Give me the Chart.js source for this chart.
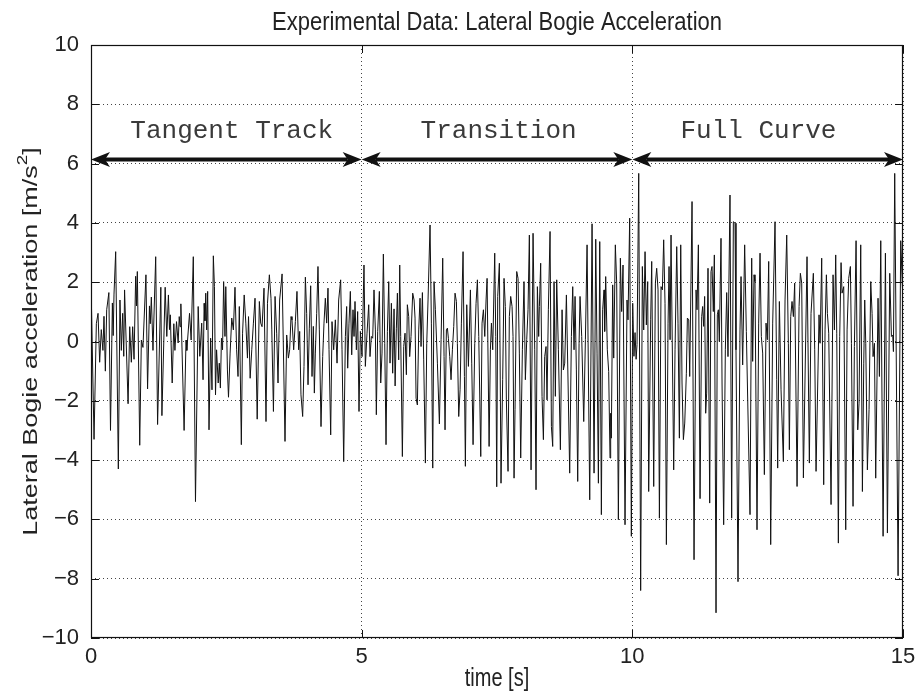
<!DOCTYPE html>
<html>
<head>
<meta charset="utf-8">
<script src="https://cdn.jsdelivr.net/npm/chart.js@4.4.1/dist/chart.umd.min.js"></script>
<style>
  html, body { margin: 0; padding: 0; background: #fff; }
  #wrap { width: 915px; height: 693px; }
</style>
</head>
<body>
<div id="wrap"><canvas id="c" width="915" height="693"></canvas></div>
<script>
// Lateral bogie acceleration record [m/s^2] against time [s], by track section.
const tangentTime = [0.00,0.056,0.099,0.13,0.16,0.19,0.22,0.24,0.265,0.29,0.33,0.36,0.395,0.41,0.425,0.456,0.505,0.535,0.56,0.585,0.605,0.62,0.685,0.715,0.745,0.77,0.795,0.825,0.84,0.856,0.90,0.93,0.96,1.015,1.045,1.08,1.095,1.115,1.145,1.195,1.23,1.29,1.31,1.37,1.40,1.43,1.45,1.465,1.50,1.53,1.55,1.58,1.61,1.63,1.645,1.66,1.72,1.755,1.77,1.82,1.85,
  1.89,1.93,1.98,2.01,2.045,2.07,2.09,2.105,2.12,2.137,2.155,2.18,2.21,2.235,2.26,2.28,2.30,2.32,2.35,2.37,2.39,2.41,2.43,2.45,2.475,2.49,2.52,2.54,2.57,2.60,2.63,2.66,2.69,2.716,2.74,2.777,2.80,2.83,2.86,2.89,2.91,2.94,2.97,3.00,3.03,3.07,3.11,3.135,3.16,3.196,3.233,3.26,3.295,3.325,3.34,3.37,3.40,3.43,3.455,3.485,3.53,3.584,3.615,3.646,3.67,3.695,
  3.713,3.744,3.775,3.805,3.836,3.855,3.879,3.91,3.935,3.96,3.984,4.009,4.033,4.058,4.083,4.107,4.126,4.144,4.169,4.193,4.218,4.249,4.28,4.304,4.329,4.354,4.378,4.397,4.428,4.452,4.483,4.514,4.545,4.575,4.612,4.637,4.668,4.699,4.723,4.742,4.766,4.791,4.816,4.84,4.859,4.877,4.902,4.926,4.951,4.976];
const tangentAcc = [2.0,-3.3,0.6,0.95,-0.7,0.4,-0.3,0.85,-1.0,1.07,1.65,-3.0,1.3,0.2,1.6,3.03,-4.3,1.4,-0.3,0.95,-0.5,1.74,-2.1,0.5,-0.7,0.5,-0.6,2.2,1.2,2.36,-3.5,0.05,-0.2,2.25,-1.6,1.2,0.6,1.5,-0.3,2.86,-2.8,1.83,-2.5,1.83,0.17,1.57,0.4,0.9,-1.4,0.6,-0.3,0.67,-0.05,0.84,0.5,1.27,-3.0,0.05,-0.3,0.95,0.05,
  2.86,-5.4,1.18,-0.5,0.62,-1.29,1.29,0.7,1.63,0.39,1.69,-2.98,0.11,-1.63,2.89,1.85,-1.8,-0.28,-1.4,-0.73,-1.57,0.11,-0.28,2.02,0.17,1.85,-0.96,-1.88,-0.39,0.79,0.39,1.83,-0.28,-1.18,1.18,-3.48,0.28,1.57,0.62,-0.56,0.84,-1.24,-0.28,0.62,1.46,-2.62,1.35,0.62,0.5,1.8,-2.7,1.29,2.25,1.46,0.39,-2.36,1.52,0.28,-1.4,1.4,2.28,-3.37,0.22,-0.56,-0.28,0.84,
  0.73,-0.28,0.67,1.69,-0.28,0.34,-1.8,-2.53,-0.84,2.17,0.95,-1.46,0.45,1.88,-1.18,0.51,-1.74,-0.39,0.95,2.53,0.39,-2.87,-0.51,0.62,1.46,0.62,1.8,-0.28,-3.15,0.67,-0.28,0.73,-0.73,1.4,2.08,-0.28,-4.05,0.17,1.18,-0.9,0.62,1.69,-0.45,1.07,0.17,1.35,-0.28,1.01,-2.36,0.34];

const transitionTime = [5.007,5.043,5.068,5.099,5.13,5.154,5.179,5.204,5.228,5.253,5.271,5.296,5.327,5.352,5.376,5.401,5.426,5.45,5.475,5.5,5.524,5.549,5.573,5.598,5.618,
  5.641,5.66,5.684,5.703,5.721,5.752,5.777,5.801,5.826,5.844,5.869,5.887,5.912,5.943,5.968,5.986,6.005,6.029,6.054,6.078,6.097,6.122,6.146,6.177,6.202,6.226,6.263,6.288,6.313,6.337,6.362,6.399,6.436,6.467,6.497,6.522,6.54,6.565,6.584,6.602,6.627,6.651,6.676,6.701,6.725,6.75,6.768,6.793,6.818,6.842,6.873,6.898,6.916,6.941,6.972,7.009,7.033,7.058,7.089,7.113,7.138,7.163,7.2,7.224,7.249,7.274,7.298,7.317,7.354,7.378,7.397,7.421,7.458,7.477,7.495,
  7.513,7.544,7.574,7.605,7.63,7.654,7.673,7.704,7.728,7.753,7.778,7.796,7.815,7.833,7.864,7.889,7.913,7.938,7.969,7.999,8.024,8.049,8.073,8.098,8.129,8.166,8.197,8.221,8.246,8.27,8.283,8.307,8.332,8.357,8.381,8.406,8.424,8.449,8.48,8.505,8.529,8.554,8.578,8.603,8.634,8.671,8.702,8.726,8.751,8.782,8.813,8.843,8.874,8.899,8.923,8.942,8.966,8.991,9.016,9.034,9.065,9.102,9.133,9.164,9.213,9.256,9.293,9.324,9.348,9.373,9.398,
  9.428,9.452,9.477,9.489,9.508,9.538,9.563,9.588,9.6,9.612,9.637,9.656,9.686,9.711,9.742,9.779,9.803,9.828,9.865,9.902,9.92,9.951,9.982];
const transitionAcc = [-0.51,2.58,-0.84,0.28,1.24,-0.51,0.17,0.11,1.74,0.39,-2.47,0.34,1.69,-1.4,-0.39,2.95,-0.06,-3.48,0.34,2.02,-0.73,1.29,-1.07,1.1,-1.5,
  0.45,1.63,-0.62,2.58,0.17,-3.88,-0.17,0.28,-1.12,1.24,0.84,-0.51,0.17,1.63,1.4,0.79,-1.91,-2.14,0.39,1.46,-0.17,1.65,-0.62,-4.1,-0.06,1.4,3.93,0.62,-4.27,2.02,1.07,-0.73,-2.78,0.06,2.81,-0.51,-2.98,0.39,0.45,0.11,-0.51,-1.29,-0.28,0.51,1.63,1.35,-0.06,-2.53,-1.63,0.62,3.03,-1.18,-4.21,1.24,-0.84,1.74,-0.73,-3.48,-0.06,1.29,2.08,0.17,-3.88,0.62,1.07,0.17,1.4,2.13,-3.54,-0.28,0.62,-0.28,2.98,0.17,-4.9,
  1.52,2.64,-4.78,-1.29,2.13,1.18,-1.97,-4.38,0.84,1.52,1.18,0.17,-4.61,-2.3,2.36,2.13,-0.39,-3.93,-0.28,2.02,-1.29,0.06,1.07,3.59,-4.33,3.65,-0.28,-5.0,1.85,0.17,1.18,2.64,-1.85,-3.31,-0.51,-0.17,-1.97,1.07,3.71,-2.87,-3.54,2.02,-1.85,2.08,-0.28,-3.65,1.07,-0.96,-0.73,1.57,-1.4,-4.44,0.17,1.85,-0.28,1.52,-0.96,-4.72,-0.06,1.52,0.17,-2.7,0.06,3.26,-5.34,3.97,-4.44,3.45,-0.39,-4.78,3.37,
  -5.84,1.07,1.74,0.34,2.19,-0.28,-1.01,-3.93,-2.42,-3.26,1.91,-0.56,3.26,1.97,-6.01,2.81,1.01,2.58,-6.18,1.4,0.73,4.16,-6.57];

const curveTime = [10.007,10.03,10.05,10.07,10.087,10.118,10.154,10.185,10.21,10.235,10.259,10.284,10.302,10.339,10.358,10.395,10.426,10.45,10.475,10.5,10.53,10.555,10.579,10.604,10.629,10.66,10.678,10.697,10.715,10.764,10.789,10.82,10.844,10.869,10.894,10.918,10.943,10.968,10.998,11.017,11.042,11.06,11.103,11.14,11.177,11.195,11.22,11.251,
  11.281,11.299,11.318,11.336,11.355,11.373,11.398,11.429,11.453,11.472,11.496,11.515,11.546,11.57,11.589,11.607,11.638,11.657,11.687,11.718,11.743,11.767,11.804,11.835,11.866,11.897,11.915,11.952,11.989,12.008,12.038,12.075,12.106,12.174,12.205,12.223,12.248,12.266,12.303,12.334,12.359,12.383,12.408,12.439,12.47,12.494,12.519,12.556,12.593,12.636,12.667,12.685,12.716,12.747,12.79,12.821,12.852,12.882,12.901,12.926,12.95,12.975,12.999,13.043,13.08,13.104,13.129,13.16,
  13.227,13.27,13.301,13.344,13.369,13.394,13.449,13.468,13.498,13.535,13.56,13.585,13.603,13.628,13.671,13.708,13.733,13.757,13.776,13.806,13.831,13.856,13.874,13.905,13.942,13.967,13.997,14.028,14.047,14.077,14.102,14.133,14.164,14.188,14.219,14.25,14.275,14.293,14.312,14.342,14.373,14.404,14.429,14.447,14.472,14.496,14.539,14.564,14.589,14.632,14.675,14.712,14.755,14.786,14.81,14.823,14.847,14.909,14.958,15.0];
const curveAcc = [1.29,-0.5,0.3,-0.6,-0.1,5.67,-8.4,2.53,0.39,3.03,0.56,2.02,-5.06,0.73,2.7,-4.89,1.97,2.47,1.74,-5.96,1.85,1.74,3.43,1.29,-6.85,0.62,2.53,0.06,3.59,-4.33,-0.28,3.2,0.62,-3.26,3.26,-1.4,-3.31,-2.75,-1.07,0.79,0.73,-1.18,4.72,-7.36,1.74,1.07,3.26,-5.3,
  0.84,1.18,0.51,1.52,-2.42,-1.74,2.47,-5.45,2.36,2.53,1.01,2.92,-9.15,0.9,1.07,0.0,3.48,-1.4,-6.18,-0.28,1.65,-0.51,4.94,-5.96,4.04,3.99,-0.28,-8.1,0.39,2.19,-0.79,3.26,0.34,-5.84,2.81,-0.67,2.25,2.02,-6.35,0.62,2.98,0.17,-0.39,-4.49,0.62,0.06,2.7,-6.85,0.62,4.04,-1.29,-4.27,1.35,-1.63,-4.05,1.4,3.59,-0.06,-3.65,0.84,1.35,0.84,1.97,-4.89,1.18,2.3,1.97,-4.6,
  2.86,-4.1,0.95,2.3,-0.28,-4.38,0.9,-0.06,2.81,-4.83,0.39,2.25,0.95,0.28,-5.5,2.25,0.39,2.92,0.28,-6.8,0.17,2.66,1.63,1.85,-6.35,0.39,2.13,2.53,-0.06,-5.56,-0.17,3.4,-2.98,-2.08,3.26,-5.06,-0.73,1.4,-0.06,-4.33,-2.3,2.02,0.95,-0.51,-0.06,-4.61,1.46,-1.18,3.4,-6.57,2.98,-6.46,2.3,0.17,0.22,-0.34,5.67,-7.9,3.4,1.3];

// Track sections, annotated across the top of the plot
const sectionNames = ['Tangent Track', 'Transition', 'Full Curve'];
const sectionStart = [0, 5, 10];
const sectionEnd = [5, 10, 15];
const sectionLabelAt = [2.6, 7.53, 12.33];
const sectionArrowLevel = 6.15;
const sectionLabelLevel = 7.1;

// Axis ticks
const xTickValues = [0, 5, 10, 15];
const yTickValues = [-10, -8, -6, -4, -2, 0, 2, 4, 6, 8, 10];

const allTime = tangentTime.concat(transitionTime, curveTime);
const allAcc = tangentAcc.concat(transitionAcc, curveAcc);
const points = allTime.map((t, i) => ({ x: t, y: allAcc[i] }));

const SANS = "'Liberation Sans', Arial, Helvetica, sans-serif";
const MONO = "'Liberation Mono', 'Courier New', monospace";
const fmtNum = v => (v < 0 ? '\u2212' + Math.abs(v) : String(v));

// Frame, inward ticks, axis titles and section annotations
const decorations = {
  id: 'decorations',
  afterDraw(chart) {
    const { ctx, chartArea: a, scales: { x, y } } = chart;
    ctx.save();

    // box
    ctx.strokeStyle = '#111';
    ctx.lineWidth = 1.2;
    ctx.strokeRect(Math.round(a.left) + 0.5, Math.round(a.top) + 0.5,
                   Math.round(a.right - a.left) - 1, Math.round(a.bottom - a.top) - 1);

    // inward tick marks on all four sides
    const tl = 8;
    ctx.lineWidth = 1;
    ctx.beginPath();
    xTickValues.forEach(v => {
      const px = Math.round(x.getPixelForValue(v)) + 0.5;
      ctx.moveTo(px, a.bottom); ctx.lineTo(px, a.bottom - tl);
      ctx.moveTo(px, a.top); ctx.lineTo(px, a.top + tl);
    });
    yTickValues.forEach(v => {
      const py = Math.round(y.getPixelForValue(v)) + 0.5;
      ctx.moveTo(a.left, py); ctx.lineTo(a.left + tl, py);
      ctx.moveTo(a.right, py); ctx.lineTo(a.right - tl, py);
    });
    ctx.stroke();

    // title
    const cx = (a.left + a.right) / 2;
    ctx.fillStyle = '#222';
    ctx.textAlign = 'center';
    ctx.textBaseline = 'middle';
    ctx.save();
    ctx.translate(cx, 23);
    ctx.scale(1, 1.15);
    ctx.font = '22px ' + SANS;
    ctx.fillText('Experimental Data: Lateral Bogie Acceleration', 0, 0);
    ctx.restore();

    // x axis title
    ctx.save();
    ctx.translate(cx, 679);
    ctx.scale(1, 1.25);
    ctx.font = '20px ' + SANS;
    ctx.fillText('time [s]', 0, 0);
    ctx.restore();

    // y axis title with superscript
    ctx.save();
    ctx.translate(31, (a.top + a.bottom) / 2);
    ctx.rotate(-Math.PI / 2);
    ctx.scale(1.35, 1);
    const base = 'Lateral Bogie acceleration [m/s';
    ctx.font = '20px ' + SANS;
    const wBase = ctx.measureText(base).width;
    const wClose = ctx.measureText(']').width;
    ctx.font = '14px ' + SANS;
    const wSup = ctx.measureText('2').width;
    const total = wBase + wSup + wClose;
    let sx = -total / 2;
    ctx.textAlign = 'left';
    ctx.font = '20px ' + SANS;
    ctx.fillText(base, sx, 0);
    sx += wBase;
    ctx.font = '14px ' + SANS;
    ctx.fillText('2', sx, -8);
    sx += wSup;
    ctx.font = '20px ' + SANS;
    ctx.fillText(']', sx, 0);
    ctx.restore();

    // section arrows
    const ay = Math.round(y.getPixelForValue(sectionArrowLevel)) + 0.5;
    const L = 19, W = 7.5, N = 14;
    const head = (tip, dir) => {
      ctx.beginPath();
      ctx.moveTo(tip, ay);
      ctx.lineTo(tip - dir * L, ay - W);
      ctx.lineTo(tip - dir * N, ay);
      ctx.lineTo(tip - dir * L, ay + W);
      ctx.closePath();
      ctx.fill();
    };
    ctx.fillStyle = '#111';
    ctx.strokeStyle = '#111';
    ctx.lineWidth = 4;
    sectionStart.forEach((s, i) => {
      const x0 = x.getPixelForValue(s);
      const x1 = x.getPixelForValue(sectionEnd[i]);
      ctx.beginPath();
      ctx.moveTo(x0 + N, ay);
      ctx.lineTo(x1 - N, ay);
      ctx.stroke();
      head(x0, -1);
      head(x1, 1);
    });

    // section labels
    ctx.fillStyle = '#3a3a3a';
    ctx.font = '26px ' + MONO;
    ctx.textAlign = 'center';
    ctx.textBaseline = 'middle';
    const ly = y.getPixelForValue(sectionLabelLevel);
    sectionNames.forEach((name, i) => {
      ctx.fillText(name, x.getPixelForValue(sectionLabelAt[i]), ly);
    });

    ctx.restore();
  }
};

new Chart(document.getElementById('c'), {
  type: 'line',
  data: {
    datasets: [{
      data: points,
      borderColor: '#111',
      borderWidth: 1,
      pointRadius: 0,
      tension: 0,
      fill: false
    }]
  },
  options: {
    responsive: false,
    animation: false,
    devicePixelRatio: 1,
    layout: { padding: { top: 45, right: 12, left: 0, bottom: 0 } },
    plugins: { legend: { display: false }, title: { display: false }, tooltip: { enabled: false } },
    scales: {
      x: {
        type: 'linear', min: 0, max: 15,
        afterBuildTicks: s => { s.ticks = xTickValues.map(v => ({ value: v })); },
        afterFit: s => { s.height = 55; s.paddingLeft = 0; s.paddingRight = 0; },
        ticks: { font: { family: SANS, size: 22 }, color: '#222', padding: 6, maxRotation: 0, callback: fmtNum },
        grid: { color: '#444', lineWidth: 1, drawTicks: false },
        border: { display: false, dash: [1, 3] }
      },
      y: {
        type: 'linear', min: -10, max: 10,
        afterBuildTicks: s => { s.ticks = yTickValues.map(v => ({ value: v })); },
        afterFit: s => { s.width = 91; s.paddingTop = 0; s.paddingBottom = 0; },
        ticks: { font: { family: SANS, size: 22 }, color: '#222', padding: 12, callback: fmtNum },
        grid: { color: '#444', lineWidth: 1, drawTicks: false },
        border: { display: false, dash: [1, 3] }
      }
    }
  },
  plugins: [decorations]
});
</script>
</body>
</html>
